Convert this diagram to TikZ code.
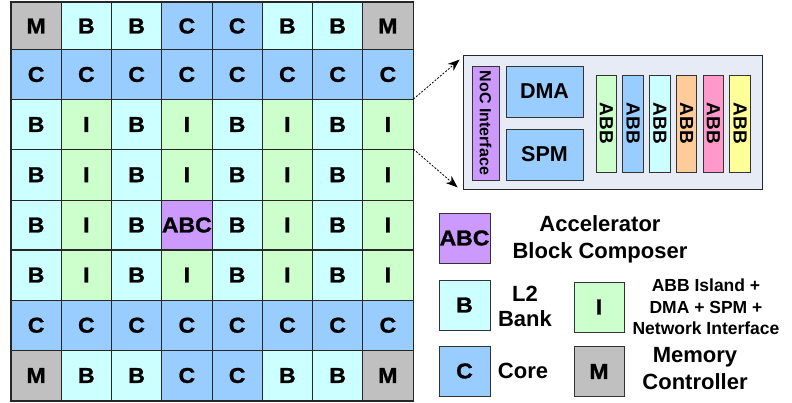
\documentclass[tikz,border=0pt]{standalone}
\usepackage{fontspec}
\setmainfont{Liberation Sans}
\newfontfamily\tilefont[FakeStretch=1.07,FakeBold=1.2]{Liberation Sans}
\usetikzlibrary{arrows.meta}

% tile colours
\definecolor{colM}{HTML}{C0C0C0}
\definecolor{colB}{HTML}{CCFFFF}
\definecolor{colC}{HTML}{99CCFF}
\definecolor{colI}{HTML}{CCFFCC}
\definecolor{colABC}{HTML}{CC99FF}
% accelerator building block colours
\definecolor{abbA}{HTML}{CCFFCC}
\definecolor{abbB}{HTML}{99CCFF}
\definecolor{abbC}{HTML}{CCFFFF}
\definecolor{abbD}{HTML}{FFCC99}
\definecolor{abbE}{HTML}{FF99CC}
\definecolor{abbF}{HTML}{FFFF99}
\definecolor{islandbg}{HTML}{E6EBF5}

\begin{document}
\begin{tikzpicture}[x=1pt,y=-1pt,
  tile/.style={draw=black!85, line width=0.8pt, inner sep=0pt,
    minimum width=50.25pt, font=\tilefont\fontsize{21.5}{24}\selectfont\bfseries},
  keybox/.style={draw=black!80, line width=0.8pt, inner sep=0pt,
    minimum width=51pt, minimum height=50pt,
    font=\tilefont\fontsize{21.5}{24}\selectfont\bfseries},
  block/.style={draw=black!80, line width=0.8pt, inner sep=0pt},
  abb/.style={block, rotate=-90, minimum width=97pt, minimum height=20.5pt,
    font=\fontsize{19}{22}\selectfont\bfseries},
  bigtext/.style={align=center, inner sep=0pt, font=\fontsize{22}{27}\selectfont\bfseries},
  smalltext/.style={align=center, inner sep=0pt, font=\fontsize{17.5}{21.5}\selectfont\bfseries},
  zoomarrow/.style={line width=0.8pt, dash pattern=on 2pt off 1.5pt,
    -{Stealth[length=12pt,width=9pt]}}
]
\useasboundingbox (0,0) rectangle (792,403);

% ---- 8x8 tile grid ----
\foreach \r/\ymid/\h/\row in {
  1/26/47/{M,B,B,C,C,B,B,M},
  2/74.5/50/{C,C,C,C,C,C,C,C},
  3/124.5/50/{B,I,B,I,B,I,B,I},
  4/174.75/50.5/{B,I,B,I,B,I,B,I},
  5/225/49.5/{B,I,B,ABC,B,I,B,I},
  6/275/50/{B,I,B,I,B,I,B,I},
  7/325.25/50.5/{C,C,C,C,C,C,C,C},
  8/375.5/50/{M,B,B,C,C,B,B,M}}{
  \foreach \t [count=\c] in \row {
    \node[tile, fill=col\t, minimum height=\h pt]
      (g-\r-\c) at ({11+(\c-0.5)*50.25}, \ymid) {\t};
  }
}
\draw[line width=1.5pt, draw=black!85] (g-1-1.north west) rectangle (g-8-8.south east);

% ---- enlarged island ----
\node[block, draw=black!85, fill=islandbg, minimum width=299pt, minimum height=134pt]
  (island) at (612.5,122) {};
\node[block, fill=colABC, rotate=-90, minimum width=114pt, minimum height=27pt,
  font=\fontsize{16}{18}\selectfont\bfseries] (noc) at (485.5,123) {NoC Interface};
\node[block, fill=colC, minimum width=77pt, minimum height=51pt,
  font=\fontsize{21.5}{24}\selectfont\bfseries] (dma) at (544.5,91.5) {DMA};
\node[block, fill=colC, minimum width=77pt, minimum height=51pt,
  font=\fontsize{21.5}{24}\selectfont\bfseries] (spm) at (544.5,154.5) {SPM};
\foreach \col [count=\i] in {abbA,abbB,abbC,abbD,abbE,abbF}{
  \node[abb, fill=\col] (abb-\i) at ({606.3+(\i-1)*26.75},123.5) {ABB};
}

\draw[zoomarrow] (g-3-8.north east) -- ([xshift=-3pt,yshift=-5pt]island.north west);
\draw[zoomarrow] (g-4-8.north east) -- ([xshift=-5pt,yshift=2pt]island.south west);

% ---- legend ----
\node[keybox, fill=colABC] (kabc) at (464.5,238) {ABC};
\node[bigtext] (tabc) at (600,239) {Accelerator\\Block Composer};
\node[keybox, fill=colB] (kb) at (464.5,305) {B};
\node[bigtext, font=\fontsize{22}{25}\selectfont\bfseries] (tb) at (525,306) {L2\\Bank};
\node[keybox, fill=colC] (kc) at (464.5,371) {C};
\node[bigtext] (tc) at (523,371) {Core};
\node[keybox, minimum width=50pt, fill=colI] (ki) at (599,307) {I};
\node[smalltext] (ti) at (706,307) {ABB Island +\\DMA + SPM +\\Network Interface};
\node[keybox, minimum width=50pt, fill=colM] (km) at (599,371.5) {M};
\node[bigtext] (tm) at (695,369) {Memory\\Controller};
\end{tikzpicture}
\end{document}
